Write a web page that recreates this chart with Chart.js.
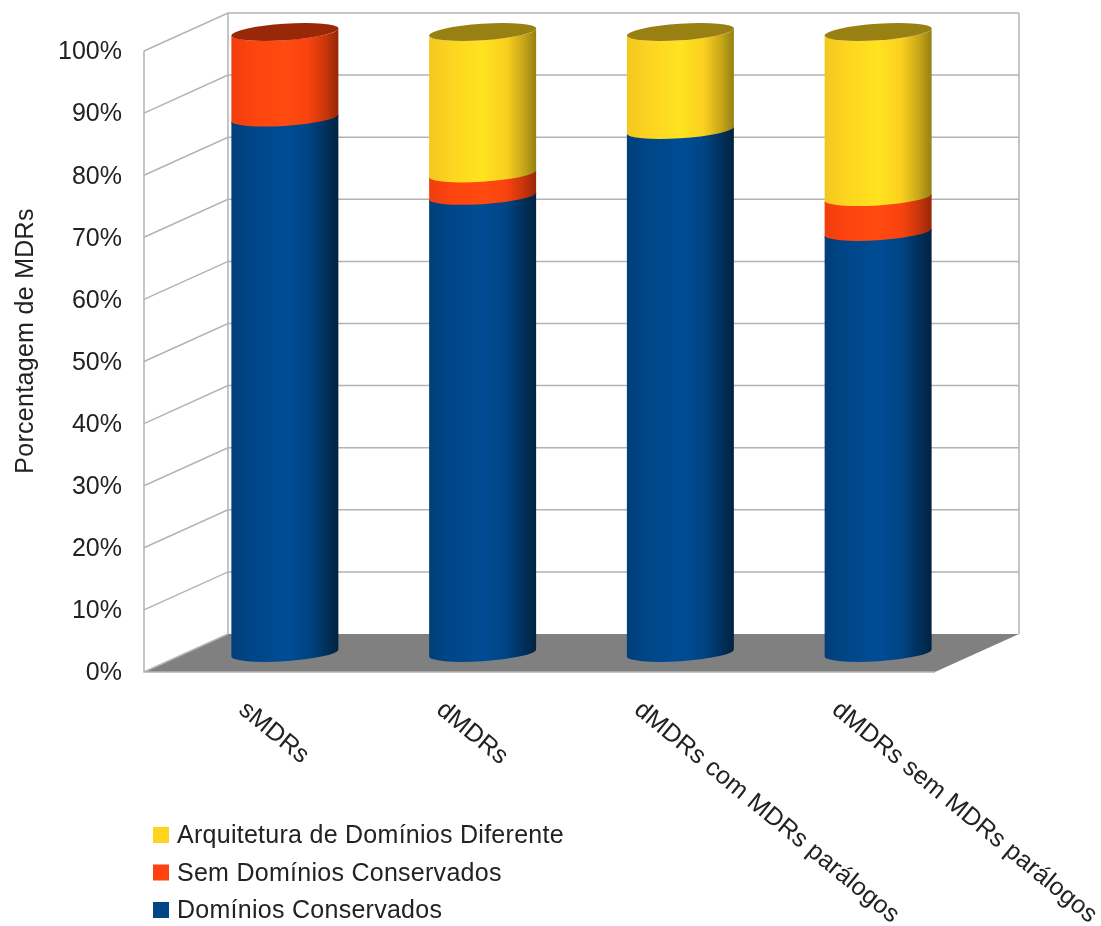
<!DOCTYPE html>
<html>
<head>
<meta charset="utf-8">
<title>Porcentagem de MDRs</title>
<style>
  html, body { margin: 0; padding: 0; background: #fff; overflow: hidden; }
  #box { position: relative; width: 1101px; height: 926px; }
</style>
<script src="https://cdn.jsdelivr.net/npm/chart.js@4/dist/chart.umd.min.js"></script>
</head>
<body>
<div id="box"><canvas id="chart"></canvas></div>
<script>
const categories = ["sMDRs", "dMDRs", "dMDRs com MDRs parálogos", "dMDRs sem MDRs parálogos"];
const dominiosConservados = [86.2, 73.6, 84.2, 67.8];
const semDominios = [13.8, 3.6, 0, 5.6];
const arquiteturaDiferente = [0, 22.8, 15.8, 26.6];

const FONT = '"Liberation Sans", Arial, sans-serif';
const TEXT = "#222222";
const GRID = "#b3b3b3";
const DEPTH_X = 84;     // depth of the box in pixels
const DEPTH_Y = -38;
const TILT = 0.066;     // cylinder caps lean up to the right
const CAP_B = 8.2;

function bandGradient(ctx, left, right, stops) {
    const g = ctx.createLinearGradient(left, 0, right, 0);
    stops.forEach((s) => g.addColorStop(s[0], s[1]));
    return g;
}

const box3d = {
    id: "box3d",
    beforeDatasetsDraw(chart) {
        const { ctx, chartArea: a, scales: { y } } = chart;
        ctx.save();
        // floor
        ctx.fillStyle = "#808080";
        ctx.beginPath();
        ctx.moveTo(a.left, a.bottom);
        ctx.lineTo(a.left + DEPTH_X, a.bottom + DEPTH_Y);
        ctx.lineTo(a.right + DEPTH_X, a.bottom + DEPTH_Y);
        ctx.lineTo(a.right, a.bottom);
        ctx.closePath();
        ctx.fill();
        // walls
        ctx.strokeStyle = GRID;
        ctx.lineWidth = 1.5;
        y.ticks.forEach((t) => {
            const py = y.getPixelForValue(t.value);
            ctx.beginPath();
            ctx.moveTo(a.left, py);
            ctx.lineTo(a.left + DEPTH_X, py + DEPTH_Y);
            if (t.value > 0) ctx.lineTo(a.right + DEPTH_X, py + DEPTH_Y);
            ctx.stroke();
        });
        ctx.beginPath();
        ctx.moveTo(a.left, a.top);
        ctx.lineTo(a.left, a.bottom);
        ctx.lineTo(a.right, a.bottom);
        ctx.moveTo(a.left + DEPTH_X, a.top + DEPTH_Y);
        ctx.lineTo(a.left + DEPTH_X, a.bottom + DEPTH_Y);
        ctx.moveTo(a.right + DEPTH_X, a.top + DEPTH_Y);
        ctx.lineTo(a.right + DEPTH_X, a.bottom + DEPTH_Y);
        ctx.stroke();
        ctx.restore();
    },
};

// Bars are painted as cylinders standing halfway into the box.
const cylinders = {
    id: "cylinders",
    beforeDatasetDraw(chart, args) {
        const { ctx } = chart;
        const ds = chart.data.datasets[args.index];
        ctx.save();
        args.meta.data.forEach((el, i) => {
            if (!ds.data[i]) return;
            const cx = el.x + DEPTH_X / 2;
            const top = el.y + DEPTH_Y / 2;
            // upper bands run a little under the one below so no seam shows
            const base = el.base + DEPTH_Y / 2 + (args.index > 0 ? 2 : 0);
            const a = el.width / 2 / Math.cos(TILT);
            const t0 = Math.atan((CAP_B / a) * Math.tan(TILT));
            ctx.fillStyle = bandGradient(ctx, cx - el.width / 2, cx + el.width / 2, ds.shades);
            ctx.beginPath();
            ctx.ellipse(cx, top, a, CAP_B, -TILT, t0 + Math.PI, t0, true);
            ctx.ellipse(cx, base, a, CAP_B, -TILT, t0, t0 + Math.PI, false);
            ctx.closePath();
            ctx.fill();
            // cap only on the highest band of the stack
            const above = chart.data.datasets.slice(args.index + 1).some((d) => d.data[i] > 0);
            if (!above) {
                ctx.fillStyle = ds.capColor;
                ctx.beginPath();
                ctx.ellipse(cx, top, a, CAP_B, -TILT, 0, Math.PI * 2);
                ctx.fill();
            }
        });
        ctx.restore();
        return false;
    },
    afterDraw(chart) {
        const { ctx, chartArea: area, scales: { x, y } } = chart;
        ctx.save();
        ctx.fillStyle = TEXT;
        ctx.font = "25px " + FONT;
        // y tick labels, nudged down to sit centred on the digits
        ctx.textBaseline = "middle";
        ctx.textAlign = "right";
        y.ticks.forEach((t) => {
            ctx.fillText(t.label, area.left - 22, y.getPixelForValue(t.value) + 1.5);
        });
        ctx.textBaseline = "alphabetic";
        ctx.textAlign = "left";
        ctx.letterSpacing = "0.15px";
        categories.forEach((c, i) => {
            ctx.save();
            ctx.translate(x.getPixelForValue(i) - 5.5, 712);
            ctx.rotate((39.3 * Math.PI) / 180);
            ctx.fillText(c, 0, 0);
            ctx.restore();
        });
        // axis title sits on the middle of the whole box, not the front plane
        ctx.save();
        ctx.letterSpacing = "0.3px";
        ctx.translate(33, 341);
        ctx.rotate(-Math.PI / 2);
        ctx.textAlign = "center";
        ctx.fillText("Porcentagem de MDRs", 0, 0);
        ctx.restore();
        // legend, top of the stack listed first
        const rows = chart.data.datasets.slice().reverse();
        ctx.letterSpacing = "0.27px";
        rows.forEach((ds, i) => {
            const rowY = 827 + i * 37.5;
            ctx.fillStyle = ds.backgroundColor;
            ctx.fillRect(153, rowY, 16, 16);
            ctx.fillStyle = TEXT;
            ctx.fillText(ds.label, 177, rowY + 16);
        });
        ctx.restore();
    },
};

new Chart(document.getElementById("chart"), {
    type: "bar",
    data: {
        labels: categories,
        datasets: [
            {
                label: "Domínios Conservados",
                data: dominiosConservados,
                backgroundColor: "#004586",
                capColor: "#002a52",
                shades: [[0, "#003f7a"], [0.2, "#004687"], [0.5, "#004c94"], [0.72, "#004585"], [0.88, "#01305c"], [1, "#012341"]],
            },
            {
                label: "Sem Domínios Conservados",
                data: semDominios,
                backgroundColor: "#ff420e",
                capColor: "#992809",
                shades: [[0, "#f03e0d"], [0.2, "#fd440e"], [0.5, "#ff4a10"], [0.72, "#f9430e"], [0.88, "#c9350b"], [1, "#962709"]],
            },
            {
                label: "Arquitetura de Domínios Diferente",
                data: arquiteturaDiferente,
                backgroundColor: "#ffd320",
                capColor: "#998013",
                shades: [[0, "#f2c81f"], [0.2, "#fdd420"], [0.5, "#ffe320"], [0.72, "#fad01f"], [0.88, "#c8a719"], [1, "#958012"]],
            },
        ],
    },
    options: {
        responsive: true,
        maintainAspectRatio: false,
        animation: false,
        layout: { padding: { top: 51, right: 166, left: 0, bottom: 0 } },
        plugins: { legend: { display: false }, tooltip: { enabled: false } },
        datasets: { bar: { barPercentage: 0.541, categoryPercentage: 1 } },
        scales: {
            x: {
                stacked: true,
                grid: { display: false },
                border: { display: false },
                ticks: { display: false },
                afterFit(scale) { scale.height = 254; },
            },
            y: {
                stacked: true,
                min: 0,
                max: 100,
                grid: { display: false },
                border: { display: false },
                ticks: {
                    display: false,
                    stepSize: 10,
                    callback: (v) => v + "%",
                },
                afterFit(scale) { scale.width = 144; },
            },
        },
    },
    plugins: [box3d, cylinders],
});
</script>
</body>
</html>
